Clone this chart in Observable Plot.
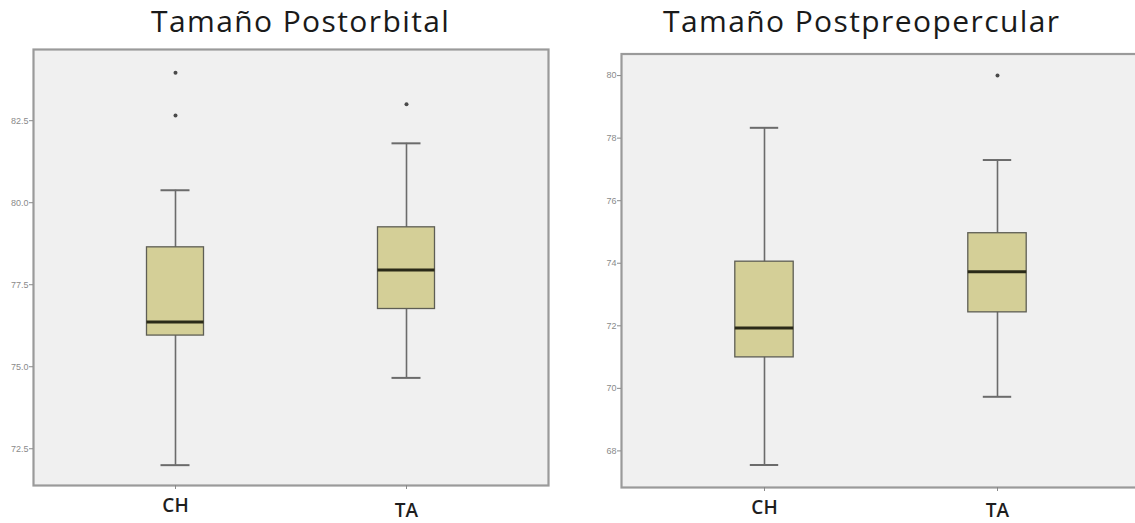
<!DOCTYPE html>
<html>
<head>
<meta charset="utf-8">
<script src="https://cdn.jsdelivr.net/npm/d3@7"></script>
<script src="https://cdn.jsdelivr.net/npm/@observablehq/plot@0.6"></script>
<style>
  html, body { margin: 0; padding: 0; background: #fff; overflow: hidden; width: 1135px; height: 523px; }
  #wrap { position: relative; width: 1135px; height: 523px; overflow: hidden; }
  .title { position: absolute; top: 0; font-family: "Open Sans", sans-serif; font-size: 30px; letter-spacing: 1.4px; color: #1a1a1a; white-space: nowrap; line-height: normal; }
  .panel { position: absolute; }
  .panel svg { max-width: none !important; display: block; }
</style>
</head>
<body>
<div id="wrap">
  <div class="title" id="t1" style="left:151px;">Tamaño Postorbital</div>
  <div class="title" id="t2" style="left:663px;">Tamaño Postpreopercular</div>
  <div class="panel" id="p1" style="left:0px; top:44px; width:560px;"></div>
  <div class="panel" id="p2" style="left:570px; top:44px; width:575px;"></div>
</div>
<script>
// ---- data ----
const categories = ["CH", "TA"];

// Tamaño Postorbital
const orbLow    = [72.0, 74.66];
const orbQ1     = [75.95, 76.76];
const orbMedian = [76.36, 77.95];
const orbQ3     = [78.64, 79.25];
const orbHigh   = [80.38, 81.81];
const orbOutCat = ["CH", "CH", "TA"];
const orbOutVal = [83.96, 82.66, 83.0];
const orbTicks  = [72.5, 75.0, 77.5, 80.0, 82.5];

// Tamaño Postpreopercular
const preLow    = [67.55, 69.73];
const preQ1     = [70.99, 72.43];
const preMedian = [71.93, 73.73];
const preQ3     = [74.05, 74.96];
const preHigh   = [78.33, 77.30];
const preOutCat = ["TA"];
const preOutVal = [80.0];
const preTicks  = [68, 70, 72, 74, 76, 78, 80];

function rows(lo, q1, med, q3, hi) {
  return categories.map((c, i) => ({cat: c, lo: lo[i], q1: q1[i], med: med[i], q3: q3[i], hi: hi[i]}));
}
function outs(cats, vals) {
  return cats.map((c, i) => ({cat: c, v: vals[i]}));
}

function panel({data, outliers, ticks, fmt, width, height, mt, mb, ml, mr, yDomain, padding, boxInset, capInset, taPad}) {
  const xAxisStyle = {tickSize: 4, fontSize: 19, fontWeight: 600, color: "#1e1e1e", stroke: "#8a8a8a", fontFamily: "Open Sans, sans-serif", label: null};
  return Plot.plot({
    width, height,
    marginTop: mt, marginBottom: mb, marginLeft: ml, marginRight: mr,
    style: {background: "transparent", overflow: "visible"},
    x: {domain: categories, padding, align: 0.5, axis: null},
    y: {domain: yDomain, axis: null},
    marks: [
      Plot.frame({fill: "#f0f0f0", stroke: null}),
      Plot.ruleX(data, {x: "cat", y1: "lo", y2: "hi", stroke: "#6b6b6b", strokeWidth: 1.6}),
      Plot.tickY(data, {x: "cat", y: "lo", stroke: "#6b6b6b", strokeWidth: 2, insetLeft: capInset, insetRight: capInset}),
      Plot.tickY(data, {x: "cat", y: "hi", stroke: "#6b6b6b", strokeWidth: 2, insetLeft: capInset, insetRight: capInset}),
      Plot.barY(data, {x: "cat", y1: "q1", y2: "q3", fill: "#d4cf97", stroke: "#5e5e55", strokeWidth: 1.3, insetLeft: boxInset, insetRight: boxInset}),
      Plot.tickY(data, {x: "cat", y: "med", stroke: "#2a2a18", strokeWidth: 3, insetLeft: boxInset, insetRight: boxInset}),
      Plot.dot(outliers, {x: "cat", y: "v", r: 2, fill: "#4a4a4a", stroke: null}),
      Plot.frame({stroke: "#9a9a9a", strokeWidth: 2.2}),
      Plot.axisY({ticks, tickFormat: fmt, tickSize: 4, tickPadding: 1, fontSize: 9, color: "#8a8a8a", stroke: "#8a8a8a", fontFamily: "Liberation Sans, sans-serif", label: null}),
      Plot.axisX({...xAxisStyle, ticks: ["CH"], tickPadding: 9}),
      Plot.axisX({...xAxisStyle, ticks: ["TA"], tickPadding: taPad})
    ]
  });
}

document.getElementById("p1").appendChild(panel({
  data: rows(orbLow, orbQ1, orbMedian, orbQ3, orbHigh),
  outliers: outs(orbOutCat, orbOutVal),
  ticks: orbTicks, fmt: d3.format(".1f"),
  width: 560, height: 479, mt: 5, mb: 38, ml: 33, mr: 12,
  yDomain: [71.38, 84.67], padding: 0.229, boxInset: 60.5, capInset: 74.5, taPad: 14
}));

document.getElementById("p2").appendChild(panel({
  data: rows(preLow, preQ1, preMedian, preQ3, preHigh),
  outliers: outs(preOutCat, preOutVal),
  ticks: preTicks, fmt: d3.format("d"),
  width: 575, height: 479, mt: 9.5, mb: 36, ml: 51, mr: 6,
  yDomain: [66.83, 80.69], padding: 0.219, boxInset: 61.8, capInset: 76.8, taPad: 12
}));
</script>
</body>
</html>
